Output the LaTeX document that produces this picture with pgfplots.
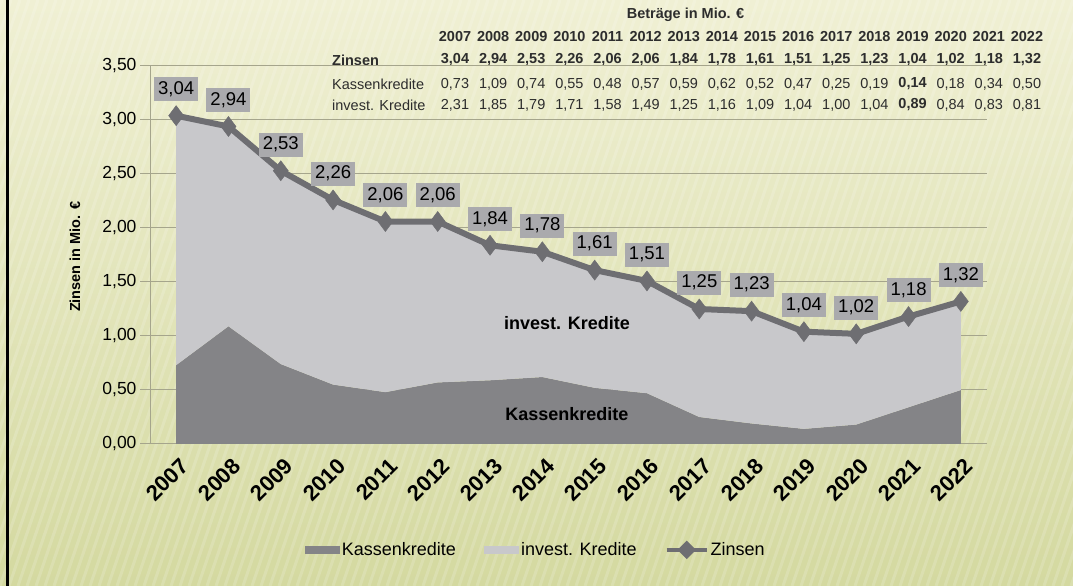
\documentclass[border=0pt]{standalone}
\usepackage{fontspec}
\setmainfont{Liberation Sans}
\usepackage{pgfplots}
\usepackage{pgfplotstable}
\pgfplotsset{compat=1.18}

\definecolor{bgtop}{RGB}{240,240,212}
\definecolor{bgbot}{RGB}{212,217,160}
\definecolor{kassen}{RGB}{132,132,135}
\definecolor{invest}{RGB}{200,200,203}
\definecolor{zinsline}{RGB}{110,110,114}
\definecolor{labelbox}{RGB}{170,170,173}
\definecolor{gridc}{RGB}{165,165,140}
\definecolor{txt}{RGB}{45,45,45}

\newcommand\fs[1]{\fontsize{#1}{#1}\selectfont}

% Betraege in Mio. EUR
\pgfplotstableread{
year kassen invest zinsen
2007 0.73 2.31 3.04
2008 1.09 1.85 2.94
2009 0.74 1.79 2.53
2010 0.55 1.71 2.26
2011 0.48 1.58 2.06
2012 0.57 1.49 2.06
2013 0.59 1.25 1.84
2014 0.62 1.16 1.78
2015 0.52 1.09 1.61
2016 0.47 1.04 1.51
2017 0.25 1.00 1.25
2018 0.19 1.04 1.23
2019 0.14 0.89 1.04
2020 0.18 0.84 1.02
2021 0.34 0.83 1.18
2022 0.50 0.81 1.32
}\kredite

\begin{document}
\begin{tikzpicture}[x=1pt,y=1pt]
\useasboundingbox (0,0) rectangle (1073,586);
\shade[top color=bgtop,bottom color=bgbot] (0,0) rectangle (1073,586);
\begin{scope}
\clip (0,0) rectangle (1073,586);
\foreach \i in {-30,...,125}
  \draw[white,opacity=0.16,line width=3pt] ({\i*9},0) -- ({\i*9+200},586);
\end{scope}
\draw[black,line width=3pt] (7,0) -- (7,586);

% table at the top
\begin{scope}[every node/.style={txt,inner sep=0pt}]
\node[font=\fs{14.5}\bfseries] at (685.5,571) {Beträge in Mio. €};
\foreach \yr [count=\i from 0] in {2007,...,2022}
  \node[font=\fs{14.5}\bfseries] at ({455+38.13*\i},549) {\yr};
\node[font=\fs{14.5}\bfseries,anchor=west] at (332,526) {Zinsen};
\node[font=\fs{14.5},anchor=west] at (332,502) {Kassenkredite};
\node[font=\fs{14.5},anchor=west] at (332,481) {invest. Kredite};
\foreach \v [count=\i from 0] in {{3,04},{2,94},{2,53},{2,26},{2,06},{2,06},{1,84},{1,78},{1,61},{1,51},{1,25},{1,23},{1,04},{1,02},{1,18},{1,32}}
  \node[font=\fs{14.5}\bfseries] at ({455+38.13*\i},526) {\v};
\foreach \v [count=\i from 0] in {{0,73},{1,09},{0,74},{0,55},{0,48},{0,57},{0,59},{0,62},{0,52},{0,47},{0,25},{0,19},{\textbf{0,14}},{0,18},{0,34},{0,50}}
  \node[font=\fs{14.5}] at ({455+38.13*\i},502) {\v};
\foreach \v [count=\i from 0] in {{2,31},{1,85},{1,79},{1,71},{1,58},{1,49},{1,25},{1,16},{1,09},{1,04},{1,00},{1,04},{\textbf{0,89}},{0,84},{0,83},{0,81}}
  \node[font=\fs{14.5}] at ({455+38.13*\i},481) {\v};
\end{scope}

\begin{axis}[
    at={(150pt,142pt)}, anchor=south west,
    scale only axis, width=837pt, height=378pt,
    xmin=2006.5, xmax=2022.5, ymin=0, ymax=3.5,
    clip=false,
    axis x line*=bottom, axis y line*=left,
    axis line style={gridc,line width=1pt},
    xtick={2007,...,2022},
    x tick style={draw=none},
    xticklabel style={rotate=45,anchor=north east,font=\fs{22}\bfseries,
        inner sep=1pt, /pgf/number format/1000 sep={}, xshift=1pt, yshift=-3pt},
    ytick={0,0.5,1,1.5,2,2.5,3,3.5},
    y tick style={gridc,line width=1pt},
    major tick length=10pt, tick align=outside,
    yticklabel style={font=\fs{17.5},
        /pgf/number format/.cd, use comma, fixed, fixed zerofill, precision=2},
    /pgf/number format/assume math mode=true,
    ymajorgrids, grid style={gridc,line width=1pt},
    ylabel={Zinsen in Mio. €},
    every axis y label/.style={at={(axis description cs:-0.0896,0.495)},
        rotate=90, anchor=center, font=\fs{14.5}\bfseries},
    legend style={at={(0.461,-0.28)}, anchor=center, draw=none, fill=none,
        font=\fs{18}, legend columns=3,
        /tikz/every even column/.append style={column sep=26pt}},
]
\addplot[stack plots=y, fill=kassen, draw=none,
    legend image code/.code={\fill[kassen] (0pt,-4pt) rectangle (35pt,4pt);}]
    table[x=year,y=kassen]{\kredite} \closedcycle;
\addlegendentry{Kassenkredite}
\addplot[stack plots=y, fill=invest, draw=none,
    legend image code/.code={\fill[invest] (0pt,-4pt) rectangle (35pt,4pt);}]
    table[x=year,y=invest]{\kredite} \closedcycle;
\addlegendentry{invest. Kredite}
\addplot[zinsline, line width=6pt, mark=diamond*, mark size=10pt,
    mark options={line width=0.5pt,fill=zinsline},
    nodes near coords={\pgfmathprintnumber[use comma,fixed,fixed zerofill,precision=2]{\pgfplotspointmeta}},
    every node near coord/.style={anchor=south, yshift=14pt, fill=labelbox,
        text=black, font=\fs{18.5}, inner xsep=4pt, inner ysep=3pt,
        text height=14pt, text depth=4pt},
    legend image code/.code={\draw[zinsline,line width=4pt] (0pt,0pt) -- (40pt,0pt);
        \fill[zinsline] (20pt,-5pt) -- (25pt,0pt) -- (20pt,5pt) -- (15pt,0pt) -- cycle;}]
    table[x=year,y=zinsen]{\kredite};
\addlegendentry{Zinsen}
\node[font=\fs{18}\bfseries] at (axis cs:2014.47,1.12) {invest. Kredite};
\node[font=\fs{18}\bfseries] at (axis cs:2014.47,0.278) {Kassenkredite};
\end{axis}
\end{tikzpicture}
\end{document}
